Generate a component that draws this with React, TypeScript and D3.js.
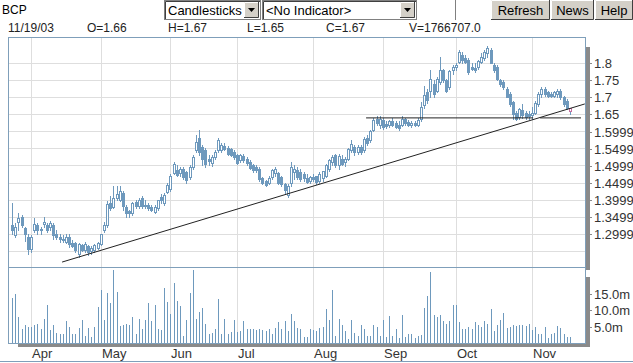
import React, { useEffect, useRef } from "react";
import * as d3 from "d3";

// daily OHLC, 177 sessions (late Mar 2003 .. 11/19/03)
const opens = [
  1.325, 1.296, 1.335, 1.35, 1.315, 1.29, 1.255, 1.31, 1.325, 1.31, 1.328, 1.325, 1.318, 1.325, 1.3, 1.29, 1.285, 1.276, 1.29, 1.272,
  1.272, 1.24, 1.266, 1.252, 1.262, 1.25, 1.252, 1.258, 1.27, 1.31, 1.325, 1.39, 1.378, 1.405, 1.4, 1.418, 1.378, 1.366, 1.36, 1.392,
  1.38, 1.405, 1.385, 1.385, 1.378, 1.364, 1.374, 1.408, 1.39, 1.423, 1.43, 1.478, 1.487, 1.478, 1.49, 1.48, 1.467, 1.497, 1.545, 1.58,
  1.555, 1.545, 1.52, 1.506, 1.526, 1.545, 1.545, 1.557, 1.55, 1.548, 1.54, 1.53, 1.516, 1.528, 1.52, 1.51, 1.5, 1.495, 1.49, 1.462,
  1.455, 1.45, 1.467, 1.477, 1.477, 1.465, 1.447, 1.414, 1.45, 1.48, 1.486, 1.48, 1.475, 1.464, 1.455, 1.466, 1.468, 1.455, 1.462, 1.47,
  1.49, 1.51, 1.53, 1.5, 1.52, 1.51, 1.52, 1.545, 1.555, 1.54, 1.555, 1.545, 1.582, 1.575, 1.603, 1.638, 1.618, 1.635, 1.622, 1.618,
  1.63, 1.625, 1.618, 1.62, 1.636, 1.628, 1.62, 1.625, 1.618, 1.638, 1.677, 1.715, 1.72, 1.74, 1.72, 1.745, 1.78, 1.75, 1.73, 1.78,
  1.79, 1.805, 1.825, 1.815, 1.81, 1.79, 1.787, 1.79, 1.805, 1.815, 1.832, 1.84, 1.795, 1.79, 1.75, 1.745, 1.725, 1.71, 1.686, 1.655,
  1.642, 1.662, 1.655, 1.65, 1.648, 1.655, 1.682, 1.71, 1.725, 1.715, 1.71, 1.705, 1.71, 1.72, 1.7, 1.69, 1.66,
];
const highs = [
  1.39, 1.33, 1.36, 1.355, 1.32, 1.3, 1.295, 1.345, 1.33, 1.32, 1.348, 1.33, 1.338, 1.33, 1.31, 1.3, 1.295, 1.3, 1.3, 1.28,
  1.275, 1.272, 1.27, 1.275, 1.266, 1.262, 1.27, 1.275, 1.3, 1.335, 1.395, 1.41, 1.44, 1.44, 1.44, 1.425, 1.385, 1.37, 1.392, 1.4,
  1.405, 1.41, 1.4, 1.39, 1.385, 1.385, 1.4, 1.415, 1.42, 1.45, 1.475, 1.51, 1.5, 1.495, 1.495, 1.485, 1.5, 1.53, 1.59, 1.605,
  1.56, 1.55, 1.53, 1.53, 1.545, 1.58, 1.565, 1.565, 1.556, 1.55, 1.545, 1.535, 1.535, 1.535, 1.525, 1.515, 1.505, 1.5, 1.495, 1.465,
  1.458, 1.47, 1.49, 1.495, 1.48, 1.47, 1.45, 1.445, 1.51, 1.5, 1.495, 1.49, 1.48, 1.475, 1.47, 1.475, 1.47, 1.48, 1.485, 1.505,
  1.52, 1.53, 1.535, 1.535, 1.53, 1.525, 1.55, 1.575, 1.56, 1.56, 1.56, 1.585, 1.59, 1.605, 1.64, 1.647, 1.645, 1.64, 1.63, 1.635,
  1.64, 1.63, 1.63, 1.645, 1.64, 1.635, 1.63, 1.63, 1.64, 1.687, 1.735, 1.725, 1.78, 1.75, 1.76, 1.82, 1.785, 1.755, 1.782, 1.795,
  1.8, 1.84, 1.835, 1.825, 1.815, 1.8, 1.8, 1.81, 1.83, 1.84, 1.85, 1.845, 1.8, 1.795, 1.755, 1.75, 1.73, 1.715, 1.69, 1.66,
  1.67, 1.68, 1.66, 1.66, 1.672, 1.69, 1.715, 1.73, 1.73, 1.72, 1.715, 1.72, 1.725, 1.725, 1.705, 1.695, 1.67,
];
const lows = [
  1.3, 1.29, 1.31, 1.32, 1.278, 1.24, 1.245, 1.305, 1.3, 1.3, 1.32, 1.305, 1.31, 1.285, 1.285, 1.275, 1.275, 1.272, 1.26, 1.26,
  1.245, 1.232, 1.248, 1.245, 1.238, 1.24, 1.245, 1.255, 1.265, 1.305, 1.32, 1.37, 1.375, 1.4, 1.395, 1.37, 1.35, 1.349, 1.355, 1.375,
  1.375, 1.375, 1.375, 1.37, 1.365, 1.36, 1.37, 1.39, 1.385, 1.42, 1.425, 1.475, 1.47, 1.47, 1.46, 1.448, 1.46, 1.49, 1.54, 1.53,
  1.5, 1.497, 1.5, 1.498, 1.52, 1.54, 1.54, 1.545, 1.53, 1.528, 1.52, 1.505, 1.51, 1.51, 1.5, 1.49, 1.48, 1.48, 1.455, 1.445,
  1.44, 1.445, 1.46, 1.47, 1.445, 1.44, 1.42, 1.408, 1.44, 1.46, 1.46, 1.455, 1.455, 1.448, 1.45, 1.455, 1.445, 1.45, 1.455, 1.465,
  1.485, 1.5, 1.495, 1.49, 1.5, 1.498, 1.515, 1.54, 1.53, 1.535, 1.535, 1.54, 1.56, 1.57, 1.6, 1.62, 1.61, 1.607, 1.61, 1.612,
  1.615, 1.61, 1.605, 1.615, 1.62, 1.615, 1.612, 1.615, 1.615, 1.63, 1.67, 1.685, 1.7, 1.7, 1.715, 1.74, 1.745, 1.715, 1.725, 1.77,
  1.78, 1.8, 1.8, 1.8, 1.77, 1.78, 1.775, 1.785, 1.8, 1.81, 1.82, 1.8, 1.775, 1.75, 1.735, 1.725, 1.7, 1.675, 1.638, 1.635,
  1.638, 1.64, 1.638, 1.637, 1.637, 1.65, 1.675, 1.7, 1.705, 1.7, 1.7, 1.7, 1.7, 1.695, 1.675, 1.665, 1.65,
];
const closes = [
  1.31, 1.32, 1.347, 1.325, 1.3, 1.255, 1.29, 1.328, 1.31, 1.312, 1.335, 1.31, 1.33, 1.295, 1.29, 1.283, 1.28, 1.29, 1.268, 1.262,
  1.252, 1.268, 1.252, 1.27, 1.247, 1.258, 1.266, 1.271, 1.298, 1.325, 1.388, 1.375, 1.405, 1.415, 1.425, 1.38, 1.36, 1.36, 1.389, 1.38,
  1.4, 1.38, 1.38, 1.375, 1.37, 1.379, 1.398, 1.398, 1.413, 1.443, 1.47, 1.505, 1.473, 1.49, 1.465, 1.458, 1.497, 1.526, 1.57, 1.54,
  1.52, 1.505, 1.512, 1.525, 1.54, 1.575, 1.56, 1.548, 1.533, 1.532, 1.526, 1.507, 1.53, 1.516, 1.506, 1.492, 1.487, 1.486, 1.46, 1.448,
  1.442, 1.462, 1.486, 1.49, 1.45, 1.445, 1.428, 1.44, 1.495, 1.49, 1.466, 1.46, 1.462, 1.452, 1.465, 1.46, 1.452, 1.475, 1.483, 1.5,
  1.515, 1.525, 1.5, 1.528, 1.505, 1.52, 1.548, 1.563, 1.54, 1.555, 1.54, 1.578, 1.565, 1.6, 1.633, 1.625, 1.638, 1.612, 1.615, 1.632,
  1.62, 1.613, 1.61, 1.638, 1.625, 1.618, 1.626, 1.618, 1.633, 1.672, 1.706, 1.692, 1.755, 1.71, 1.755, 1.78, 1.75, 1.72, 1.778, 1.79,
  1.795, 1.834, 1.81, 1.805, 1.775, 1.785, 1.78, 1.808, 1.82, 1.834, 1.845, 1.8, 1.78, 1.753, 1.74, 1.73, 1.702, 1.682, 1.652, 1.638,
  1.665, 1.648, 1.642, 1.645, 1.655, 1.685, 1.71, 1.725, 1.71, 1.705, 1.705, 1.715, 1.72, 1.7, 1.68, 1.67, 1.67,
];
// volume in millions of shares
const volumes = [
  13.8, 15.0, 7.9, 4.4, 5.4, 4.9, 4.9, 5.4, 5.9, 4.4, 7.4, 11.5, 4.1, 5.6, 3.2, 2.9, 2.9, 6.6, 4.9, 2.6,
  2.6, 4.7, 6.9, 2.1, 4.7, 1.7, 4.9, 11.1, 16.2, 7.1, 15.3, 12.3, 22.3, 15.7, 5.1, 5.4, 5.9, 5.6, 7.9, 2.9,
  7.4, 4.4, 6.9, 12.2, 6.6, 11.7, 4.2, 4.1, 16.8, 12.6, 9.0, 18.3, 12.7, 11.2, 2.1, 6.9, 15.3, 22.3, 7.4, 9.5,
  10.8, 5.9, 2.9, 3.0, 4.4, 13.5, 2.7, 7.4, 2.6, 3.4, 7.1, 3.4, 3.6, 6.6, 4.2, 4.2, 4.4, 3.9, 4.4, 3.9,
  3.8, 4.4, 2.6, 4.7, 6.4, 4.4, 6.6, 3.6, 9.0, 6.6, 4.6, 4.2, 1.9, 1.7, 4.4, 3.9, 3.6, 4.6, 4.9, 10.5,
  6.9, 16.2, 2.0, 7.4, 5.4, 3.6, 1.2, 6.9, 3.2, 2.2, 5.6, 4.2, 2.2, 2.2, 5.4, 4.9, 2.2, 6.9, 1.7, 8.1,
  2.2, 4.2, 1.4, 8.4, 1.7, 2.6, 2.6, 1.4, 2.2, 2.4, 10.8, 14.5, 21.8, 8.4, 7.9, 8.7, 6.6, 5.9, 6.6, 11.7,
  11.5, 6.3, 4.4, 4.2, 4.9, 4.2, 6.3, 5.4, 4.9, 6.6, 5.9, 10.4, 3.6, 5.4, 6.9, 9.2, 4.6, 4.9, 5.6, 5.1,
  5.4, 5.4, 5.1, 5.9, 3.9, 4.9, 2.6, 2.9, 4.9, 1.4, 2.9, 3.2, 5.1, 4.6, 2.6, 1.9, 1.77,
];

const monthLabels = ["Apr", "May", "Jun", "Jul", "Aug", "Sep", "Oct", "Nov"];
const monthStarts = [6, 28, 50, 71, 95, 117, 140, 164]; // bar index of first session

const priceTicks = [1.8, 1.75, 1.7, 1.65, 1.5999, 1.5499, 1.4999, 1.4499, 1.3999, 1.3499, 1.2999];
const priceTickLabels = ["1.8", "1.75", "1.7", "1.65", "1.5999", "1.5499", "1.4999", "1.4499", "1.3999", "1.3499", "1.2999"];
const priceGrid = [1.8, 1.75, 1.7, 1.65, 1.6, 1.55, 1.5, 1.45, 1.4, 1.35, 1.3, 1.25];
const volumeTicks = [15, 10, 5];
const volumeTickLabels = ["15.0m", "10.0m", "5.0m"];

const infoItems = ["11/19/03", "O=1.66", "H=1.67", "L=1.65", "C=1.67", "V=1766707.0"];

// drawn trend lines, in (bar index, price)
const trendLine = [{ i: 15.8, p: 1.216 }, { i: 180.7, p: 1.681 }];
const supportLines = [
  [{ i: 111.7, p: 1.64 }, { i: 164.4, p: 1.64 }],
  [{ i: 166.6, p: 1.64 }, { i: 179.5, p: 1.64 }],
];

const FONT = "'Liberation Sans', Arial, sans-serif";
const BLUE = "#6e99bd";
const FRAME = "#7f9fba";
const GRID = "#dedede";

function Chart() {
  const ref = useRef<SVGSVGElement>(null);

  useEffect(() => {
    const svg = d3.select(ref.current);
    svg.selectAll("*").remove();

    const left = 8, right = 585, top = 37, split = 267, bottom = 343;

    const x = d3.scaleLinear().domain([-1.26, 180.76]).range([left, right]);
    const yP = d3.scaleLinear().domain([1.2015, 1.8779]).range([split, top]);
    const yV = d3.scaleLinear().domain([0, 23.2]).range([bottom, split]);

    // ---------- toolbar ----------
    const bar = svg.append("g");
    bar.append("text").attr("x", 2).attr("y", 14).style("font", `12px ${FONT}`).attr("fill", "#000").text("BCP");

    const selectBox = (x0: number, x1: number, label: string) => {
      bar.append("rect").attr("x", x0 + 0.5).attr("y", 0.5).attr("width", x1 - x0 - 1).attr("height", 19)
        .attr("fill", "#fff").attr("stroke", "#808080");
      bar.append("path").attr("d", `M${x0 + 1.5},19 V1.5 H${x1 - 1}`).attr("stroke", "#404040").attr("fill", "none");
      // arrow button
      const bx = x1 - 17;
      bar.append("rect").attr("x", bx).attr("y", 2).attr("width", 15).attr("height", 16).attr("fill", "#d4d0c8");
      bar.append("path").attr("d", `M${bx + 0.5},17.5 V2.5 H${bx + 15}`).attr("stroke", "#fff").attr("fill", "none");
      bar.append("path").attr("d", `M${bx},17.5 H${bx + 14.5} V2`).attr("stroke", "#404040").attr("fill", "none");
      bar.append("path").attr("d", `M${bx + 4},8 h7 l-3.5,4 z`).attr("fill", "#000");
      bar.append("text").attr("x", x0 + 4).attr("y", 15).style("font", `13px ${FONT}`).attr("fill", "#000").text(label);
    };
    selectBox(164, 261, "Candlesticks");
    selectBox(262, 417, "<No Indicator>");
    bar.append("line").attr("x1", 455.5).attr("x2", 455.5).attr("y1", 0).attr("y2", 20).attr("stroke", "#808080");

    const button = (x0: number, x1: number, label: string) => {
      bar.append("rect").attr("x", x0).attr("y", 0).attr("width", x1 - x0).attr("height", 20).attr("fill", "#d4d0c8");
      bar.append("path").attr("d", `M${x0 + 0.5},19 V0.5 H${x1}`).attr("stroke", "#fff").attr("fill", "none");
      bar.append("path").attr("d", `M${x0},19.5 H${x1 - 0.5} V0`).attr("stroke", "#404040").attr("fill", "none");
      bar.append("text").attr("x", (x0 + x1) / 2).attr("y", 15).attr("text-anchor", "middle")
        .style("font", `13px ${FONT}`).attr("fill", "#000").text(label);
    };
    button(491, 550, "Refresh");
    button(551, 594, "News");
    button(595, 633, "Help");

    // info row
    const infoX = [8, 87, 168, 247, 326, 409];
    svg.append("g").selectAll("text").data(infoItems).join("text")
      .attr("x", (d, i) => infoX[i]).attr("y", 32)
      .style("font", `12px ${FONT}`).attr("fill", "#222").text(d => d);

    // ---------- shadows ----------
    svg.append("rect").attr("x", 586).attr("y", 47).attr("width", 4).attr("height", 223).attr("fill", "#8a8a8a");
    svg.append("rect").attr("x", 586).attr("y", 277).attr("width", 4).attr("height", 70).attr("fill", "#8a8a8a");
    svg.append("rect").attr("x", 18).attr("y", 344).attr("width", 572).attr("height", 3).attr("fill", "#8a8a8a");

    // ---------- grid ----------
    const grid = svg.append("g").attr("stroke", GRID);
    grid.selectAll("line.h").data(priceGrid).join("line").attr("class", "h")
      .attr("x1", left).attr("x2", right)
      .attr("y1", d => Math.round(yP(d)) + 0.5).attr("y2", d => Math.round(yP(d)) + 0.5);
    grid.selectAll("line.v").data(monthStarts).join("line").attr("class", "v")
      .attr("x1", d => Math.round(x(d)) + 0.5).attr("x2", d => Math.round(x(d)) + 0.5)
      .attr("y1", top).attr("y2", bottom);

    // ---------- candles ----------
    const candles = svg.append("g");
    opens.forEach((o, i) => {
      const c = closes[i];
      const cx = Math.round(x(i));
      const color = i === opens.length - 1 ? "#c46f9f" : BLUE;
      const yTop = Math.round(yP(Math.max(o, c)));
      const yBot = Math.round(yP(Math.min(o, c)));
      candles.append("line").attr("x1", cx + 0.5).attr("x2", cx + 0.5)
        .attr("y1", Math.round(yP(highs[i]))).attr("y2", Math.round(yP(lows[i])) + 1)
        .attr("stroke", BLUE);
      if (c >= o) {
        candles.append("rect").attr("x", cx - 0.5).attr("y", yTop + 0.5)
          .attr("width", 2).attr("height", Math.max(yBot - yTop, 1))
          .attr("fill", "#fff").attr("stroke", color);
      } else {
        candles.append("rect").attr("x", cx - 1).attr("y", yTop)
          .attr("width", 3).attr("height", Math.max(yBot - yTop, 1) + 1)
          .attr("fill", color);
      }
    });

    // ---------- volume ----------
    svg.append("g").selectAll("line").data(volumes).join("line")
      .attr("x1", (d, i) => Math.round(x(i)) + 0.5).attr("x2", (d, i) => Math.round(x(i)) + 0.5)
      .attr("y1", bottom).attr("y2", d => Math.round(yV(d)))
      .attr("stroke", BLUE);

    // ---------- trend lines ----------
    const line = d3.line<{ i: number; p: number }>().x(d => x(d.i)).y(d => yP(d.p));
    svg.append("path").attr("d", line(trendLine)).attr("stroke", "#222").attr("fill", "none");
    supportLines.forEach(s => {
      svg.append("path").attr("d", line(s)).attr("stroke", "#222").attr("fill", "none");
    });

    // ---------- frame ----------
    const frame = svg.append("g").attr("stroke", FRAME).attr("fill", "none");
    frame.append("rect").attr("x", left + 0.5).attr("y", top + 0.5).attr("width", right - left).attr("height", bottom - top);
    frame.append("line").attr("x1", left).attr("x2", right + 1).attr("y1", split + 0.5).attr("y2", split + 0.5);
    svg.append("line").attr("x1", 0).attr("x2", 633).attr("y1", 361.5).attr("y2", 361.5).attr("stroke", FRAME);

    // ---------- right axes ----------
    const axis = svg.append("g").style("font", `13px ${FONT}`).attr("fill", "#333");
    axis.selectAll("line.pt").data(priceTicks).join("line").attr("class", "pt")
      .attr("x1", 586).attr("x2", 592)
      .attr("y1", d => Math.round(yP(d)) + 0.5).attr("y2", d => Math.round(yP(d)) + 0.5)
      .attr("stroke", "#8a8a8a");
    axis.selectAll("text.pt").data(priceTicks).join("text").attr("class", "pt")
      .attr("x", 594).attr("y", d => yP(d) + 5)
      .text((d, i) => priceTickLabels[i]);
    axis.selectAll("line.vt").data(volumeTicks).join("line").attr("class", "vt")
      .attr("x1", 586).attr("x2", 592)
      .attr("y1", d => Math.round(yV(d)) + 0.5).attr("y2", d => Math.round(yV(d)) + 0.5)
      .attr("stroke", "#8a8a8a");
    axis.selectAll("text.vt").data(volumeTicks).join("text").attr("class", "vt")
      .attr("x", 594).attr("y", d => yV(d) + 5)
      .text((d, i) => volumeTickLabels[i]);

    // month labels
    svg.append("g").selectAll("text").data(monthStarts).join("text")
      .attr("x", d => Math.round(x(d)) + 1).attr("y", 358)
      .style("font", `13px ${FONT}`).attr("fill", "#333")
      .text((d, i) => monthLabels[i]);
  }, []);

  return (
    <svg ref={ref} width={633} height={363}
      style={{ position: "absolute", left: 0, top: 0, background: "#fff", display: "block" }} />
  );
}

export default function App() {
  return <Chart />;
}
